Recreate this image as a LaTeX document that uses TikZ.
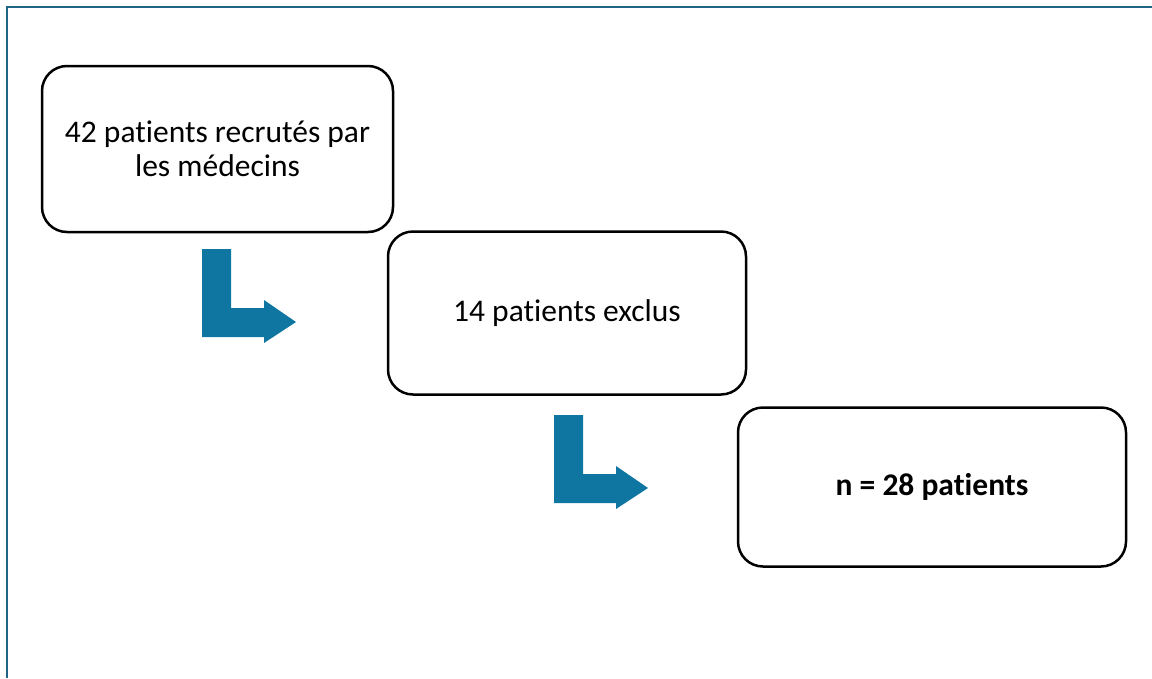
\documentclass[tikz,border=0pt]{standalone}
\usepackage{fontspec}
\setmainfont{Carlito}[Ligatures={NoCommon}]
\usepackage{tikz}
\usetikzlibrary{positioning}
\definecolor{framecol}{RGB}{31,99,133}
\definecolor{arrowcol}{RGB}{14,118,160}
\tikzstyle{step box} = [draw=black, line width=2.5pt, rounded corners=25pt,
                        align=center, font=\fontsize{31.5}{34}\selectfont]
\tikzstyle{bent}     = [fill=arrowcol, draw=none]

\begin{document}
\begin{tikzpicture}[x=1pt,y=-1pt]
        \useasboundingbox (0,0) rectangle (1152,678);
        \draw[framecol, line width=2pt] (7,678) -- (7,7) -- (1152,7);

        \node[step box, minimum width=351pt, minimum height=166pt]
            (recrutes) at (217.5,149) {42 patients recrutés par\\les médecins};
        \node[step box, minimum width=358pt, minimum height=163pt]
            (exclus) at (567,313) {14 patients exclus};
        \node[step box, minimum width=388pt, minimum height=159pt, font=\fontsize{31.5}{34}\selectfont\bfseries]
            (final) at (932,487) {n = 28 patients};

        % bent arrows
        \coordinate (a1) at (202,249);
        \coordinate (a2) at (554,415);
        \foreach \a in {a1,a2}
            \fill[bent, shift={(\a)}] (0,0) -- (29,0) -- (29,59) -- (62,59) -- (62,51)
                -- (94,73) -- (62,94) -- (62,88) -- (0,88) -- cycle;
\end{tikzpicture}
\end{document}
